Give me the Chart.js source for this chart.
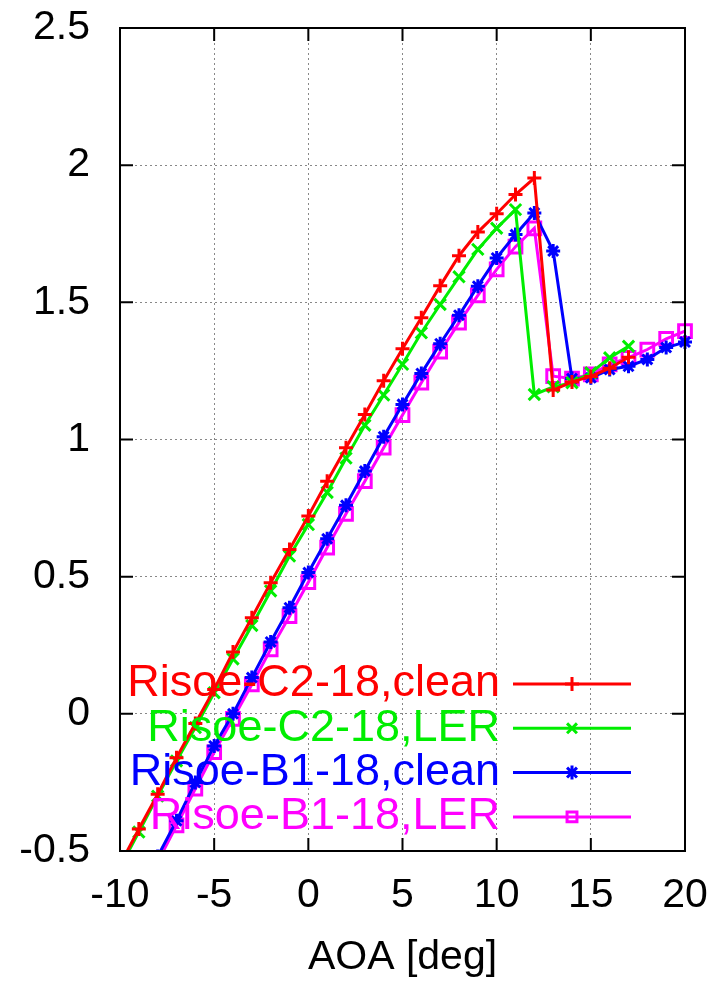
<!DOCTYPE html>
<html>
<head>
<meta charset="utf-8">
<script src="https://cdn.jsdelivr.net/npm/chart.js@4"></script>
<style>
html, body { margin: 0; padding: 0; background: #fff; }
</style>
</head>
<body>
<canvas id="aoaChart" width="712" height="986"></canvas>
<script>
// AOA [deg] for each series
var aoaC2Clean = [-10,-9,-8,-7,-6,-5,-4,-3,-2,-1,0,1,2,3,4,5,6,7,8,9,10,11,12,13,14,15,16,17];
var clC2Clean  = [-0.55,-0.42,-0.293,-0.16,-0.035,0.089,0.225,0.35,0.478,0.599,0.721,0.848,0.97,1.091,1.214,1.331,1.444,1.56,1.67,1.756,1.823,1.893,1.953,1.18,1.21,1.23,1.26,1.30];

var aoaC2Ler = [-10,-9,-8,-7,-6,-5,-4,-3,-2,-1,0,1,2,3,4,5,6,7,8,9,10,11,12,13,14,15,16,17];
var clC2Ler  = [-0.56,-0.431,-0.3,-0.172,-0.05,0.077,0.2,0.322,0.448,0.575,0.69,0.807,0.932,1.052,1.162,1.274,1.389,1.492,1.593,1.693,1.77,1.838,1.164,1.192,1.207,1.243,1.298,1.34];

var aoaB1Clean = [-8,-7,-6,-5,-4,-3,-2,-1,0,1,2,3,4,5,6,7,8,9,10,11,12,13,14,15,16,17,18,19,20];
var clB1Clean  = [-0.52,-0.39,-0.25,-0.117,0.0,0.132,0.262,0.387,0.515,0.638,0.76,0.885,1.01,1.128,1.241,1.349,1.453,1.559,1.662,1.747,1.826,1.687,1.222,1.225,1.255,1.267,1.292,1.335,1.355];

var aoaB1Ler = [-8,-7,-6,-5,-4,-3,-2,-1,0,1,2,3,4,5,6,7,8,9,10,11,12,13,14,15,16,17,18,19,20];
var clB1Ler  = [-0.54,-0.407,-0.273,-0.14,-0.018,0.107,0.235,0.356,0.48,0.606,0.729,0.848,0.97,1.089,1.207,1.32,1.426,1.525,1.62,1.703,1.77,1.231,1.222,1.237,1.274,1.298,1.328,1.367,1.395];

var seriesNames = ['Risoe-C2-18,clean', 'Risoe-C2-18,LER', 'Risoe-B1-18,clean', 'Risoe-B1-18,LER'];
var seriesColors = ['#ff0000', '#00ee00', '#0000ff', '#ff00ff'];
var seriesMarkers = ['cross', 'crossRot', 'star', 'rect'];
var markerSizes = [7, 8, 7, 9];

var FONT = '"Liberation Sans", Arial, sans-serif';

function toPoints(xs, ys) {
    return xs.map(function (x, i) { return { x: x, y: ys[i] }; });
}

function makeSet(i, xs, ys) {
    return {
        label: seriesNames[i],
        data: toPoints(xs, ys),
        showLine: true,
        borderColor: seriesColors[i],
        backgroundColor: 'rgba(0,0,0,0)',
        borderWidth: 3,
        pointStyle: seriesMarkers[i],
        pointRadius: markerSizes[i],
        pointBorderColor: seriesColors[i],
        pointBorderWidth: 3,
        pointBackgroundColor: 'rgba(0,0,0,0)',
        clip: { left: 0, top: false, right: false, bottom: 0 },
        tension: 0
    };
}

// frame, inward tick marks and the in-plot legend (text left of sample)
var framePlugin = {
    id: 'framePlugin',
    afterDatasetsDraw: function (chart) {
        var ctx = chart.ctx;
        var a = chart.chartArea;
        var xs = chart.scales.x, ys = chart.scales.y;
        ctx.save();
        ctx.strokeStyle = '#000';
        ctx.lineWidth = 2;
        ctx.strokeRect(a.left, a.top, a.right - a.left, a.bottom - a.top);
        ctx.beginPath();
        xs.ticks.forEach(function (t) {
            var px = xs.getPixelForValue(t.value);
            ctx.moveTo(px, a.bottom); ctx.lineTo(px, a.bottom - 13);
            ctx.moveTo(px, a.top); ctx.lineTo(px, a.top + 13);
        });
        ys.ticks.forEach(function (t) {
            var py = ys.getPixelForValue(t.value);
            ctx.moveTo(a.left, py); ctx.lineTo(a.left + 13, py);
            ctx.moveTo(a.right, py); ctx.lineTo(a.right - 13, py);
        });
        ctx.stroke();

        // legend
        ctx.font = '45px ' + FONT;
        ctx.textAlign = 'right';
        ctx.textBaseline = 'middle';
        chart.data.datasets.forEach(function (ds, i) {
            var y = 684 + i * 44.3;
            ctx.fillStyle = seriesColors[i];
            ctx.fillText(ds.label, 500, y);
            ctx.strokeStyle = seriesColors[i];
            ctx.lineWidth = 3;
            ctx.beginPath();
            ctx.moveTo(513, y); ctx.lineTo(631, y);
            ctx.stroke();
            ctx.fillStyle = 'rgba(0,0,0,0)';
            Chart.helpers.drawPoint(ctx, {
                pointStyle: seriesMarkers[i], radius: 7, rotation: 0, borderWidth: 3
            }, 572, y);
        });
        ctx.restore();
    }
};

new Chart(document.getElementById('aoaChart'), {
    type: 'scatter',
    data: {
        datasets: [
            makeSet(0, aoaC2Clean, clC2Clean),
            makeSet(1, aoaC2Ler, clC2Ler),
            makeSet(2, aoaB1Clean, clB1Clean),
            makeSet(3, aoaB1Ler, clB1Ler)
        ]
    },
    options: {
        responsive: false,
        animation: false,
        layout: { padding: { top: 28, right: 27, left: 0, bottom: 0 } },
        plugins: {
            legend: { display: false },
            tooltip: { enabled: false }
        },
        scales: {
            x: {
                type: 'linear',
                min: -10,
                max: 20,
                afterFit: function (s) {
                    s.height = 135;
                    s.paddingLeft = 0; s.paddingRight = 0;
                },
                ticks: {
                    stepSize: 5,
                    color: '#000',
                    padding: 20,
                    font: { family: FONT, size: 41 },
                    maxRotation: 0
                },
                grid: { color: '#888', lineWidth: 1, drawTicks: false },
                border: { display: false, dash: [2, 3] },
                title: {
                    display: true,
                    text: 'AOA [deg]',
                    color: '#000',
                    font: { family: FONT, size: 41 },
                    padding: { top: 4, bottom: 4 }
                }
            },
            y: {
                min: -0.5,
                max: 2.5,
                afterFit: function (s) {
                    s.width = 120;
                    s.paddingTop = 0; s.paddingBottom = 0;
                },
                ticks: {
                    stepSize: 0.5,
                    color: '#000',
                    padding: 30,
                    font: { family: FONT, size: 41 },
                    callback: function (v) { return String(Number(v)); }
                },
                grid: { color: '#888', lineWidth: 1, drawTicks: false },
                border: { display: false, dash: [2, 3] }
            }
        }
    },
    plugins: [framePlugin]
});
</script>
</body>
</html>
